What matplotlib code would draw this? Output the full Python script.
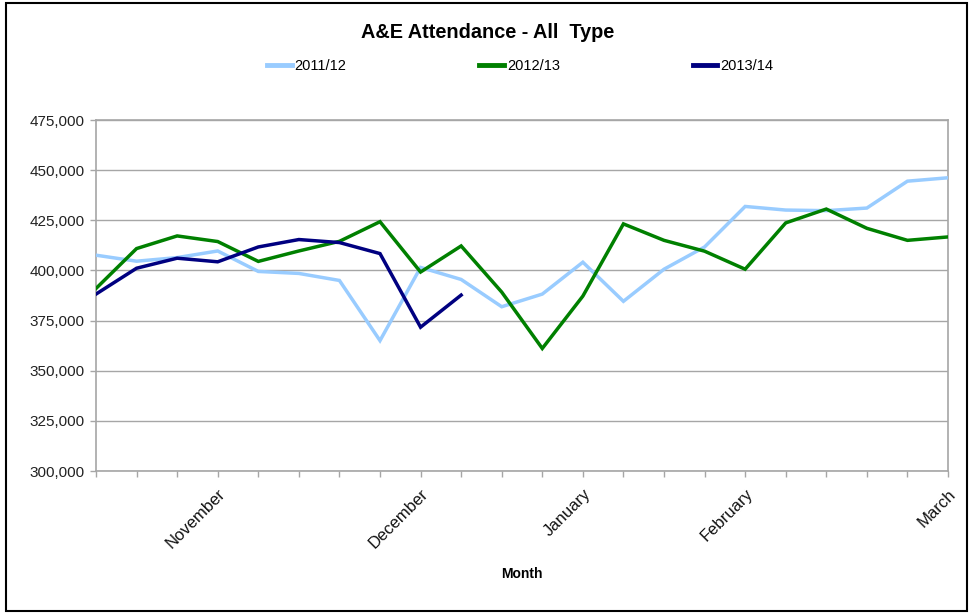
import matplotlib
matplotlib.use("Agg")
import matplotlib.pyplot as plt
from matplotlib.patches import Rectangle
from matplotlib.ticker import FuncFormatter, MultipleLocator

plt.rcParams['font.family'] = ['Liberation Sans', 'DejaVu Sans']

# ---- data ----
x_labels = ["", "", "", "November", "", "", "", "", "December", "", "", "",
            "January", "", "", "", "February", "", "", "", "", "March"]
series_names = ["2011/12", "2012/13", "2013/14"]
y_2011 = [407600, 404600, 406400, 409700, 399500, 398500, 395000, 365000,
          401500, 395500, 381900, 388200, 404100, 384600, 400600, 411700,
          431900, 430100, 429800, 431100, 444500, 446200]
y_2012 = [391000, 410900, 417200, 414400, 404500, 409700, 414500, 424300,
          399200, 412200, 389200, 361100, 387200, 423200, 415000, 409600,
          400600, 423700, 430600, 421000, 415000, 416700]
y_2013 = [388200, 401100, 406100, 404300, 411700, 415400, 413900, 408400,
          371700, 387700]
colors = ["#99CCFF", "#008000", "#000080"]

W, H = 975, 614
fig = plt.figure(figsize=(W / 100, H / 100), dpi=100)
fig.patch.set_facecolor("white")

# outer border
fig.patches.append(Rectangle((6 / W, 3 / H), (967 - 6) / W, (611 - 3) / H,
                             transform=fig.transFigure, fill=False,
                             edgecolor="black", linewidth=1.5))

L, R, T, B = 96, 948, 120, 471
ax = fig.add_axes([L / W, 1 - B / H, (R - L) / W, (B - T) / H])

xs = list(range(len(x_labels)))
for name, ys, c in zip(series_names, [y_2011, y_2012, y_2013], colors):
    ax.plot(xs[:len(ys)], ys, color=c, linewidth=2.5, label=name,
            solid_joinstyle="miter", zorder=3)

ax.set_xlim(0, len(x_labels) - 1)
ax.set_ylim(300000, 475000)
ax.yaxis.set_major_locator(MultipleLocator(25000))
ax.yaxis.set_major_formatter(FuncFormatter(lambda v, p: f"{int(v):,}"))
ax.set_xticks(xs)
ax.set_xticklabels(x_labels, rotation=45, ha="right", va="top",
                   rotation_mode="anchor", fontsize=12)

grid_c = "#a6a6a6"
ax.grid(axis="y", color=grid_c, linewidth=1, zorder=0)
for s in ax.spines.values():
    s.set_color(grid_c)
    s.set_linewidth(1.2)
ax.tick_params(axis="both", colors=grid_c, length=4, width=1)
ax.tick_params(axis="y", labelcolor="#222222", labelsize=11, pad=4)
ax.tick_params(axis="x", labelcolor="#111111", pad=7)

ax.set_xlabel("Month", fontsize=10, fontweight="bold", labelpad=11)

fig.text(488 / W, 1 - 33 / H, "A&E Attendance - All  Type", ha="center",
         va="center", fontsize=14.3, fontweight="bold")

leg = fig.legend(loc="center", bbox_to_anchor=(520 / W, 1 - 66 / H), ncol=3,
                 frameon=False, fontsize=10.5, handlelength=1.7,
                 handletextpad=0.2, columnspacing=9.1)
for line in leg.get_lines():
    line.set_linewidth(3.5)

fig.savefig("out.png", dpi=100)
